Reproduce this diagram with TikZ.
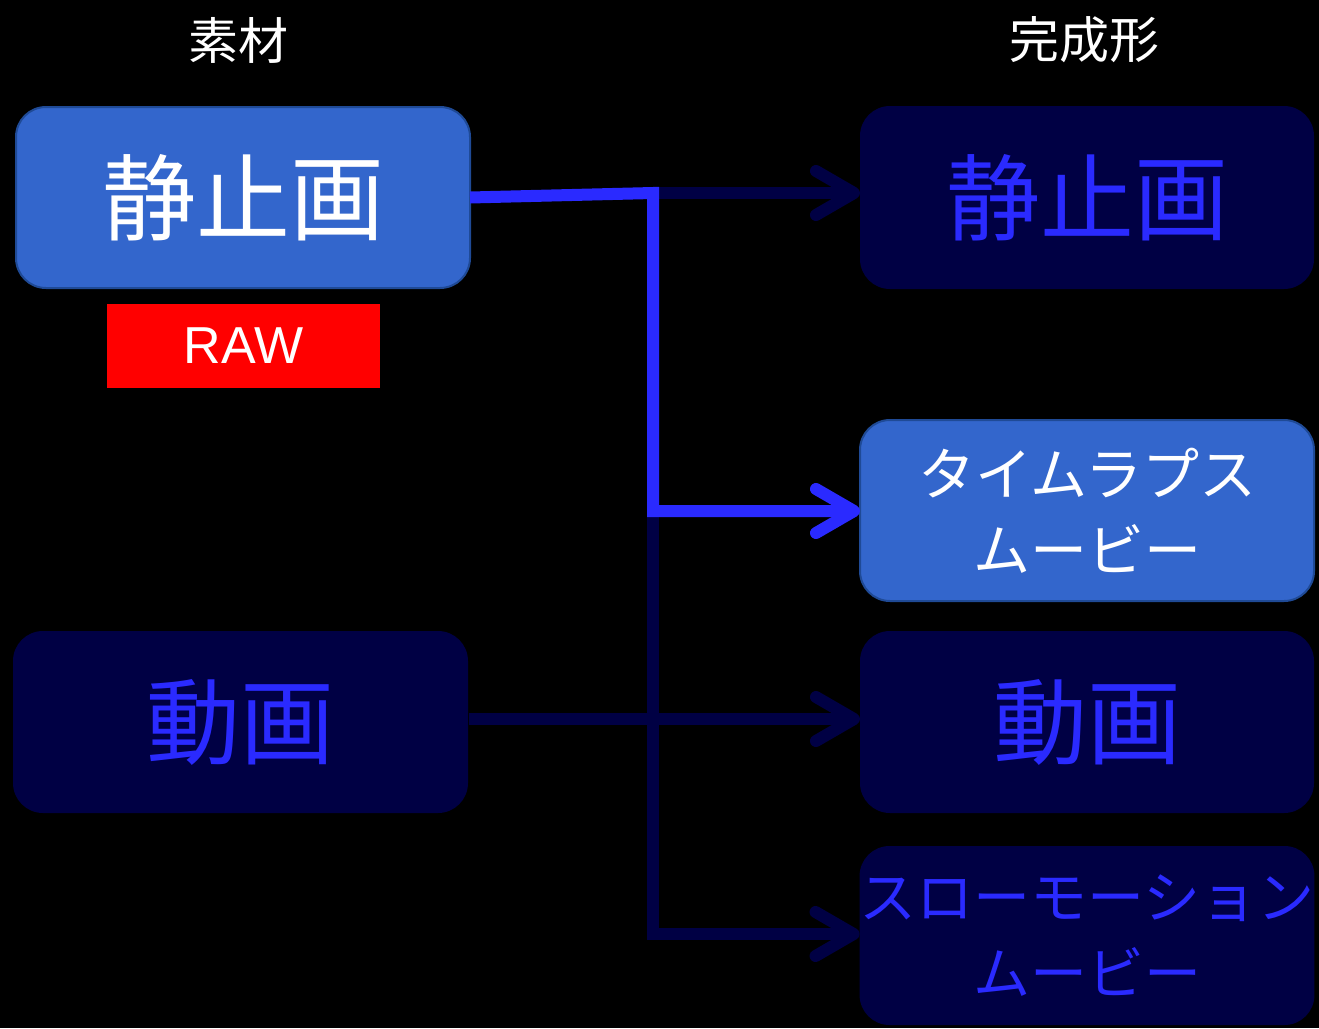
\documentclass[tikz,border=0pt]{standalone}
\usepackage{fontspec}
\setmainfont{Liberation Sans}
\newfontfamily\jp{Noto Sans CJK JP}
\usetikzlibrary{arrows.meta}
\definecolor{bgblack}{HTML}{000000}
\definecolor{brightfill}{HTML}{3366CC}
\definecolor{brightedge}{HTML}{1F4A96}
\definecolor{darkfill}{HTML}{000044}
\definecolor{vivid}{HTML}{2A2AFF}
\definecolor{rawred}{HTML}{FF0000}
\tikzset{
  x=1pt, y=-1pt,
  boxbase/.style={rounded corners=30pt, inner sep=0pt, outer sep=0pt, minimum width=454pt, align=center},
  brightbox/.style={boxbase, fill=brightfill, draw=brightedge, line width=2pt, text=white},
  darkbox/.style={boxbase, fill=darkfill, draw=none, text=vivid},
  bigtxt/.style={font=\jp\fontsize{94}{100}\selectfont},
  midtxt/.style={font=\jp\fontsize{57}{76}\selectfont},
  titletxt/.style={font=\jp\fontsize{50}{56}\selectfont, text=white},
  darkline/.style={draw=darkfill, line width=12pt},
  brightline/.style={draw=vivid, line width=12pt},
  tipped/.style={-{Straight Barb[length=38pt,width=44pt,round]}},
}
\begin{document}
\begin{tikzpicture}
\fill[bgblack] (0,0) rectangle (1319,1028);
\useasboundingbox (0,0) rectangle (1319,1028);

\node[titletxt] (t1) at (238,40) {素材};
\node[titletxt] (t2) at (1084,40) {完成形};

\node[brightbox, bigtxt, minimum height=181pt] (l1) at (243,197.5) {静止画};
\node[fill=rawred, inner sep=0pt, minimum width=273pt, minimum height=84pt, text=white, font=\fontsize{52}{60}\selectfont] (raw) at (243.5,346) {RAW};
\node[darkbox, bigtxt, minimum height=182pt, minimum width=455pt] (l2) at (240.5,722) {動画};

\node[darkbox, bigtxt, minimum height=183pt] (r1) at (1087,197.5) {静止画};
\node[brightbox, midtxt, minimum height=181pt] (r2) at (1087,510.5) {タイムラプス\\ムービー};
\node[darkbox, bigtxt, minimum height=182pt] (r3) at (1087,722) {動画};
\node[darkbox, midtxt, minimum height=179pt] (r4) at (1087,935.5) {スローモーション\\ムービー};

\coordinate (j1) at (653,193);
\coordinate (j2) at (653,511);
\coordinate (j3) at (653,934);
\coordinate (a3) at (469,719);

% dark connectors
\draw[darkline, tipped] (j1) -- (j1 -| r1.west);
\draw[darkline, tipped] (j2) -- (j3) -- (j3 -| r4.west);
\draw[darkline, tipped] (a3) -- (a3 -| r3.west);
% bright connector
\draw[brightline, tipped] (l1.east) -- (j1) -- (j2) -- (j2 -| r2.west);
\end{tikzpicture}
\end{document}
